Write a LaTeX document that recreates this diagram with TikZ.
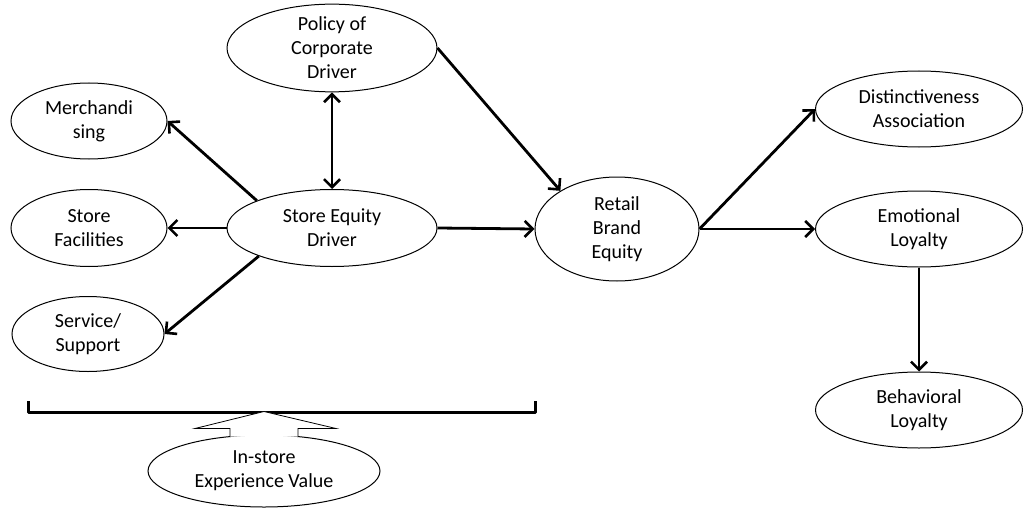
\documentclass[tikz,border=0pt]{standalone}
\usepackage{fontspec}
\setmainfont{Carlito}
\usetikzlibrary{shapes.geometric,arrows.meta,calc}
\begin{document}
\begin{tikzpicture}[x=1pt,y=-1pt,
  ell/.style={ellipse, draw, line width=1pt, inner sep=0pt, align=center,
              font=\fontsize{20}{24}\selectfont},
  arr/.style={line width=2.8pt, -{Straight Barb[length=8pt,width=16pt,line width=2.6pt]}},
  biarr/.style={line width=2.8pt, {Straight Barb[length=8pt,width=16pt,line width=2.6pt]}-{Straight Barb[length=8pt,width=16pt,line width=2.6pt]}},
  brk/.style={line width=3pt, line join=round},
  hollow/.style={draw, fill=white, line width=0.8pt, line join=miter}
]
\useasboundingbox (0,0) rectangle (1024,508);

\node[ell, minimum width=210, minimum height=77] (pol) at (332,48) {Policy of\\Corporate\\Driver};
\node[ell, minimum width=156, minimum height=76] (mer) at (89,121) {Merchandi\\sing};
\node[ell, minimum width=156, minimum height=77] (fac) at (89,228) {Store\\Facilities};
\node[ell, minimum width=152, minimum height=75] (ser) at (88,334) {Service/\\Support};
\node[ell, minimum width=210, minimum height=77] (sed) at (332,228) {Store Equity\\Driver};
\node[ell, minimum width=164, minimum height=104] (rbe) at (617,229) {Retail\\Brand\\Equity};
\node[ell, minimum width=207, minimum height=76] (dis) at (919,109) {Distinctiveness\\Association};
\node[ell, minimum width=207, minimum height=76] (emo) at (919,229) {Emotional\\Loyalty};
\node[ell, minimum width=207, minimum height=76] (beh) at (919,410) {Behavioral\\Loyalty};
\node[ell, minimum width=232, minimum height=72] (ins) at (264,471) {In-store\\Experience Value};

\draw[biarr] (pol.south) -- (sed.north);
\draw[arr] (sed.160) -- (mer.east);
\draw[arr] (sed.west) -- (fac.east);
\draw[arr] (sed.201) -- (ser.east);
\draw[arr] (pol.east) -- (rbe.146);
\draw[arr] (sed.east) -- (rbe.west);
\draw[arr] (rbe.east) -- (dis.west);
\draw[arr] (rbe.east) -- (emo.west);
\draw[arr] (emo.south) -- (beh.north);

\coordinate (bl) at (28,401);
\coordinate (br) at (535,401);
\draw[brk] (bl) -- (28,412) -- (535,412) -- (br);

\draw[hollow] ($(ins.north)+(-34,2)$) -- ($(ins.north)+(-34,-6)$) -- ($(ins.north)+(-69,-6)$)
  -- ($(ins.north)+(0,-23)$) -- ($(ins.north)+(72,-6)$) -- ($(ins.north)+(34,-6)$) -- ($(ins.north)+(34,2)$);
\end{tikzpicture}
\end{document}
